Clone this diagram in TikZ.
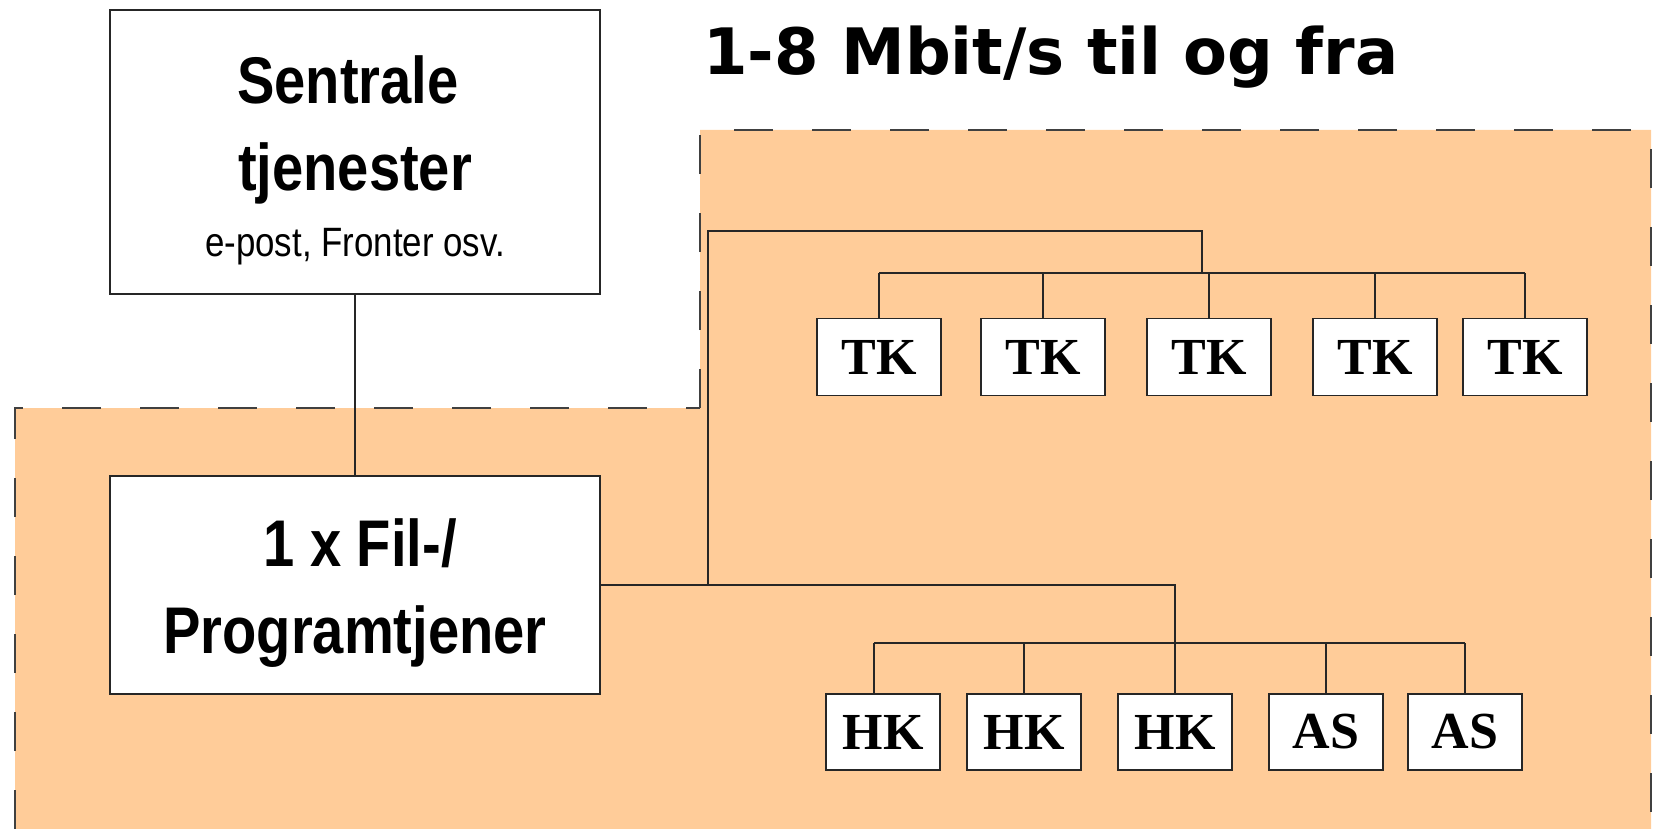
\documentclass[tikz,border=0pt]{standalone}
\usepackage{fontspec}
\setmainfont{Liberation Serif}
\newfontfamily\narrowsans[FakeStretch=0.85]{Liberation Sans}
\newfontfamily\headfont{DejaVu Sans}
\definecolor{zone}{HTML}{FFCC99}
\begin{document}
\begin{tikzpicture}[x=0.5pt,y=-0.5pt,
  box/.style={draw=black!85, line width=0.75pt, fill=white, inner sep=0pt},
  srvbox/.style={box, minimum width=245pt},
  termbox/.style={box, minimum width=62pt, minimum height=38.5pt,
    font=\fontsize{26}{26}\selectfont\bfseries},
  hkbox/.style={termbox, minimum width=57pt, minimum height=38pt},
  bigtxt/.style={anchor=base, inner sep=0pt, font=\narrowsans\bfseries\fontsize{33}{33}\selectfont},
  smalltxt/.style={anchor=base, inner sep=0pt, font=\narrowsans\fontsize{20.5}{20.5}\selectfont},
  wire/.style={line width=0.6pt, draw=black!85},
  rim/.style={line width=1pt, draw=black!75, dash pattern=on 19.5pt off 19.5pt}]
\useasboundingbox (0,0) rectangle (1676,829);

% shaded network zone with its dashed outline
\fill[zone] (15,829) -- (15,408) -- (700,408) -- (700,130) -- (1651,130) -- (1651,829) -- cycle;
\draw[rim] (15,829) -- (15,408) -- (700,408);
\draw[rim] (700,408) -- (700,130) -- (1651,130) -- (1651,829);

% heading
\node[anchor=base west, inner sep=0pt, font=\headfont\bfseries\fontsize{32}{32}\selectfont]
  (head) at (703,75) {1-8 Mbit/s til og fra};

% servers
\node[srvbox, minimum height=142pt] (sent) at (355,152) {};
\node[bigtxt] (sentA) at (348,104) {Sentrale};
\node[bigtxt] (sentB) at (355,191) {tjenester};
\node[smalltxt] (sentC) at (355,256) {e-post, Fronter osv.};

\node[srvbox, minimum height=109pt] (fil) at (355,585) {};
\node[bigtxt] (filA) at (360,566) {1 x Fil-/};
\node[bigtxt] (filB) at (355,653) {Programtjener};

\draw[wire] (sent.south) -- (fil.north);

% terminals
\node[termbox] (tk1) at (879,357) {TK};
\node[termbox] (tk2) at (1043,357) {TK};
\node[termbox] (tk3) at (1209,357) {TK};
\node[termbox] (tk4) at (1375,357) {TK};
\node[termbox] (tk5) at (1525,357) {TK};

\node[hkbox] (hk1) at (883,732) {HK};
\node[hkbox] (hk2) at (1024,732) {HK};
\node[hkbox] (hk3) at (1175,732) {HK};
\node[hkbox] (as1) at (1326,732) {AS};
\node[hkbox] (as2) at (1465,732) {AS};

% upper branch
\coordinate (tkbus) at (1202,273);
\draw[wire] (fil.east) -- (708,585) -- (708,231) -- (1202,231) -- (tkbus);
\draw[wire] (tk1.north |- tkbus) -- (tk5.north |- tkbus);
\foreach \n in {tk1,tk2,tk3,tk4,tk5}
  \draw[wire] (\n.north |- tkbus) -- (\n.north);

% lower branch
\coordinate (hkbus) at (1175,643);
\coordinate (hk1top) at ([xshift=-4.5pt]hk1.north);
\draw[wire] (fil.east) -- (1175,585) -- (hkbus);
\draw[wire] (hk1top |- hkbus) -- (as2.north |- hkbus);
\draw[wire] (hk1top |- hkbus) -- (hk1top);
\foreach \n in {hk2,hk3,as1,as2}
  \draw[wire] (\n.north |- hkbus) -- (\n.north);
\end{tikzpicture}
\end{document}
